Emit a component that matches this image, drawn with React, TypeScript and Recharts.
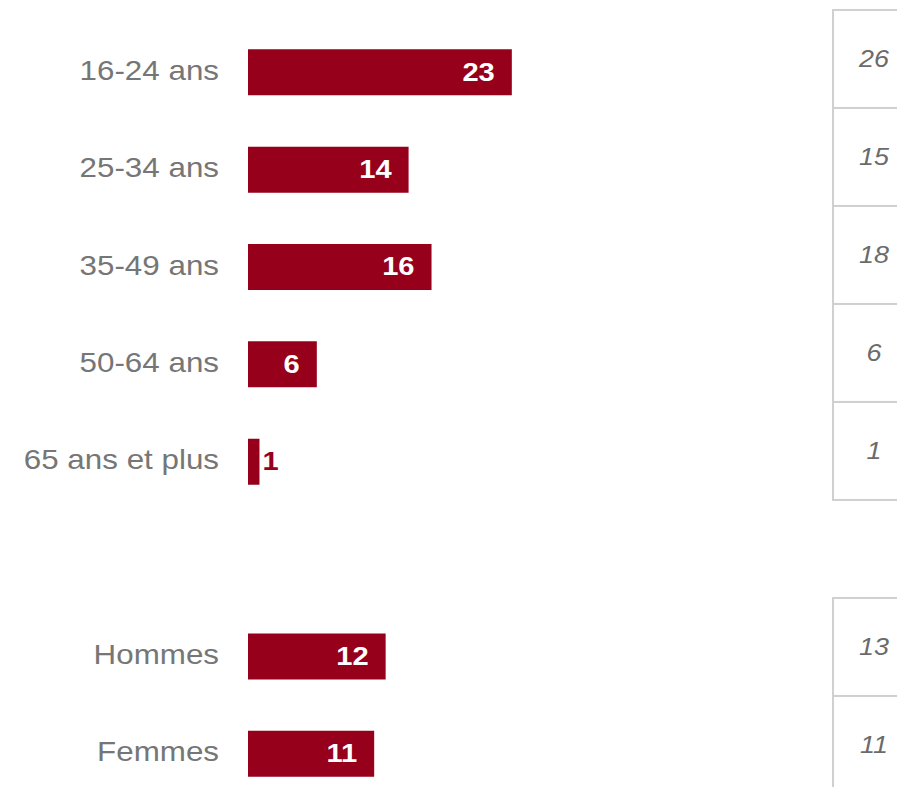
import React from 'react';
import { BarChart, Bar, XAxis, YAxis, LabelList } from 'recharts';

const categories = ['16-24 ans', '25-34 ans', '35-49 ans', '50-64 ans', '65 ans et plus', '', 'Hommes', 'Femmes'];
const values: (number | null)[] = [23, 14, 16, 6, 1, null, 12, 11];
const tableValues: (number | null)[] = [26, 15, 18, 6, 1, null, 13, 11];

const data = categories.map((cat, i) => ({ cat, value: values[i] }));

const FONT = '"Liberation Sans", Arial, Helvetica, sans-serif';
const BAR_COLOR = '#96001a';

const LeftTick = (props: any) => {
  const { x, y, payload } = props;
  if (!payload || !payload.value) return null;
  return (
    <g transform={`translate(${x},${y})`}>
      <text
        transform="scale(1.12,1)"
        textAnchor="end"
        dy="0.28em"
        fill="#767676"
        fontSize={28}
        fontFamily={FONT}
      >
        {payload.value}
      </text>
    </g>
  );
};

const TableTick = (props: any) => {
  const { x, y, index } = props;
  const v = tableValues[index];
  if (v == null) return null;
  const cy = y - 13 + index * 0.65;
  return (
    <g>
      <rect x={x} y={cy - 49} width={120} height={98} fill="none" stroke="#d0d0d0" strokeWidth={2} />
      <g transform={`translate(${x + 41},${cy})`}>
        <text
          transform="scale(1.12,1)"
          textAnchor="middle"
          dy="0.35em"
          fontStyle="italic"
          fill="#6b6b6b"
          fontSize={24}
          fontFamily={FONT}
        >
          {v}
        </text>
      </g>
    </g>
  );
};

const BarValueLabel = (props: any) => {
  const { x, y, width, height, value } = props;
  if (value == null) return null;
  const cy = y + height / 2 - 1;
  const inside = width > 40;
  const tx = inside ? x + width - 17 : x + width + 3;
  return (
    <g transform={`translate(${tx},${cy})`}>
      <text
        transform="scale(1.12,1)"
        dy="0.36em"
        textAnchor={inside ? 'end' : 'start'}
        fill={inside ? '#ffffff' : BAR_COLOR}
        fontWeight="bold"
        fontSize={26}
        fontFamily={FONT}
      >
        {value}
      </text>
    </g>
  );
};

export default function App() {
  return (
    <div style={{ position: 'fixed', top: 0, left: 0, width: 897, height: 787, overflow: 'hidden', background: '#fff' }}>
      <BarChart
        width={897}
        height={810}
        data={data}
        layout="vertical"
        margin={{ top: 23.3, right: 0, bottom: 7.9, left: 0 }}
        barSize={46}
      >
        <XAxis type="number" domain={[0, 51]} hide />
        <YAxis
          yAxisId="left"
          type="category"
          dataKey="cat"
          width={248}
          axisLine={false}
          tickLine={false}
          tickSize={0}
          tickMargin={29}
          tick={<LeftTick />}
          interval={0}
        />
        <YAxis
          yAxisId="right"
          orientation="right"
          type="category"
          dataKey="cat"
          width={64}
          axisLine={false}
          tickLine={false}
          tickSize={0}
          tickMargin={0}
          tick={<TableTick />}
          interval={0}
        />
        <Bar yAxisId="left" dataKey="value" fill={BAR_COLOR} isAnimationActive={false}>
          <LabelList dataKey="value" content={<BarValueLabel />} />
        </Bar>
      </BarChart>
    </div>
  );
}
